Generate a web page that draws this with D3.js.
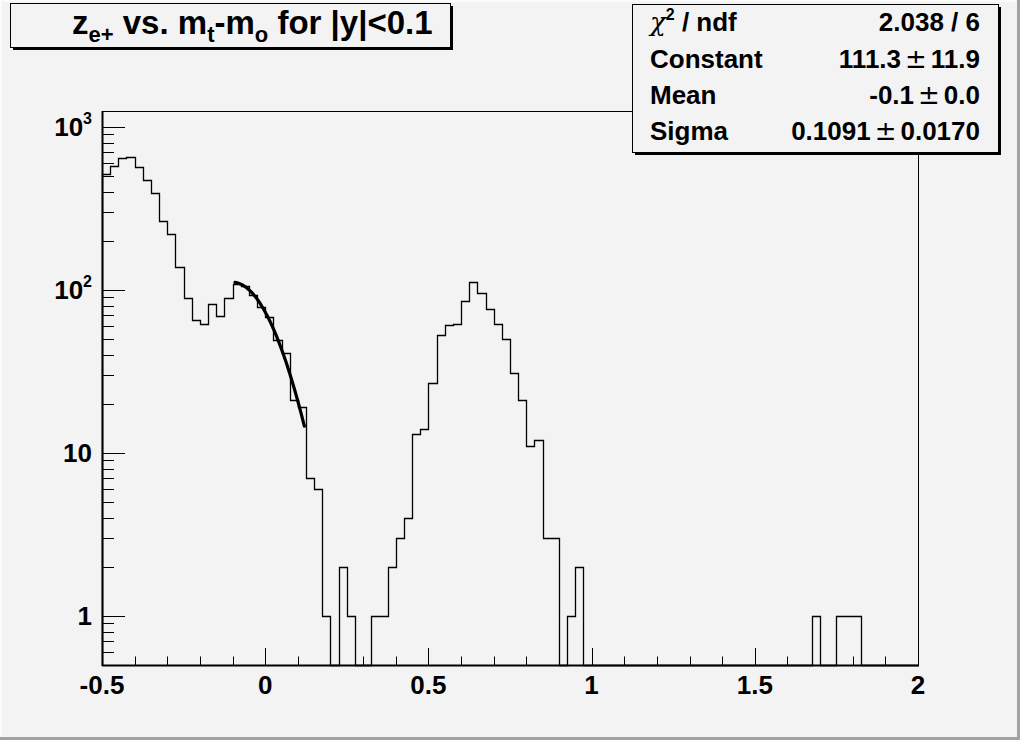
<!DOCTYPE html>
<html>
<head>
<meta charset="utf-8">
<script src="https://cdn.jsdelivr.net/npm/d3@7"></script>
<style>
  html, body { margin: 0; padding: 0; background: #f3f3f3; }
  svg { display: block; }
  text { font-family: "Liberation Sans", Arial, Helvetica, sans-serif; font-weight: bold; fill: #000; }
</style>
</head>
<body>
<svg id="chart" width="1020" height="740"></svg>
<script>
// ---------------- data ----------------
const xMin = -0.5;
const xMax = 2.0;
const binWidth = 0.025;
// counts per bin (100 bins from -0.5 to 2.0)
const counts = [
  512, 573, 645, 653, 563, 475, 394, 265, 219, 138,
   89,  65,  62,  82,  69,  89, 109, 106,  93,  79,
   68,  49,  41,  21,  19,   7,   6,   1,   0,   2,
    1,   0,   0,   1,   1,   2,   3,   4,  13,  14,
   27,  53,  61,  62,  85, 111,  95,  76,  62,  50,
   31,  21,  11,  12,   3,   3,   0,   1,   2,   0,
    0,   0,   0,   0,   0,   0,   0,   0,   0,   0,
    0,   0,   0,   0,   0,   0,   0,   0,   0,   0,
    0,   0,   0,   0,   0,   0,   0,   1,   0,   0,
    1,   1,   1,   0,   0,   0,   0,   0,   0,   0
];
const yMin = 0.5;
const yMax = 1250;
const xMajorTicks = [-0.5, 0, 0.5, 1, 1.5, 2];
const xTickLabels = ["-0.5", "0", "0.5", "1", "1.5", "2"];
const yMajorTicks = [1, 10, 100, 1000];
const yTickBase = ["1", "10", "10", "10"];
const yTickExp  = ["", "", "2", "3"];
// Gaussian fit result
const fitConstant = 111.3;
const fitMean = -0.1;
const fitSigma = 0.1091;
const fitRange = [-0.0925, 0.12];
// stats box
const statLabels = ["χ", "Constant", "Mean", "Sigma"];
const statValues = [["2.038 / 6"], ["111.3", "11.9"], ["-0.1", "0.0"], ["0.1091", "0.0170"]];

// ---------------- layout ----------------
const svg = d3.select("#chart");
const W = 1020, H = 740;
const frame = { left: 102, right: 918, top: 111, bottom: 665 };

svg.append("rect").attr("x", 0).attr("y", 0).attr("width", W).attr("height", H).attr("fill", "#f3f3f3");
// canvas bevel
svg.append("rect").attr("x", 0).attr("y", 0).attr("width", W).attr("height", 2).attr("fill", "#fbfbfb");
svg.append("rect").attr("x", 0).attr("y", 0).attr("width", 2).attr("height", H).attr("fill", "#fbfbfb");
svg.append("rect").attr("x", W - 3).attr("y", 0).attr("width", 3).attr("height", H).attr("fill", "#a2a2a2");
svg.append("rect").attr("x", 0).attr("y", H - 3).attr("width", W).attr("height", 3).attr("fill", "#a2a2a2");

const x = d3.scaleLinear().domain([xMin, xMax]).range([frame.left, frame.right]);
const y = d3.scaleLog().domain([yMin, yMax]).range([frame.bottom, frame.top]);

// frame
svg.append("rect")
  .attr("x", frame.left + 0.5).attr("y", frame.top + 0.5)
  .attr("width", frame.right - frame.left).attr("height", frame.bottom - frame.top)
  .attr("fill", "none").attr("stroke", "#000").attr("stroke-width", 1);

// ---------------- histogram ----------------
const px = v => Math.round(v) + 0.5;
const yc = v => px(y(Math.max(v, yMin)));
let pts = [];
pts.push([px(x(xMin)), px(y(yMin))]);
counts.forEach((c, i) => {
  const lo = xMin + i * binWidth, hi = lo + binWidth;
  pts.push([px(x(lo)), yc(c)]);
  pts.push([px(x(hi)), yc(c)]);
});
pts.push([px(x(xMax)), px(y(yMin))]);
svg.append("path")
  .attr("d", d3.line()(pts))
  .attr("fill", "none").attr("stroke", "#000").attr("stroke-width", 1.3);

// ---------------- fit curve ----------------
const nFit = 60;
const fitPts = d3.range(nFit + 1).map(k => {
  const xv = fitRange[0] + (fitRange[1] - fitRange[0]) * k / nFit;
  const yv = fitConstant * Math.exp(-0.5 * Math.pow((xv - fitMean) / fitSigma, 2));
  return [x(xv), y(yv)];
});
svg.append("path")
  .attr("d", d3.line().curve(d3.curveLinear)(fitPts))
  .attr("fill", "none").attr("stroke", "#000").attr("stroke-width", 3.2)
  .attr("stroke-linecap", "round");

// ---------------- axes ----------------
const ax = svg.append("g");
ax.append("line").attr("x1", frame.left).attr("x2", frame.right + 1)
  .attr("y1", frame.bottom + 0.5).attr("y2", frame.bottom + 0.5)
  .attr("stroke", "#000").attr("stroke-width", 2);
ax.append("line").attr("x1", frame.left + 0.5).attr("x2", frame.left + 0.5)
  .attr("y1", frame.top).attr("y2", frame.bottom + 1)
  .attr("stroke", "#000").attr("stroke-width", 2);

// x ticks
const xMinor = x.ticks(25);
xMinor.forEach(t => {
  const major = xMajorTicks.some(m => Math.abs(m - t) < 1e-9);
  ax.append("line")
    .attr("x1", px(x(t))).attr("x2", px(x(t)))
    .attr("y1", frame.bottom).attr("y2", frame.bottom - (major ? 17 : 8.5))
    .attr("stroke", "#000").attr("stroke-width", 1);
});
ax.selectAll(".xl").data(xMajorTicks).enter().append("text")
  .attr("x", d => x(d)).attr("y", 694)
  .attr("text-anchor", "middle").attr("font-size", 26)
  .text((d, i) => xTickLabels[i]);

// y ticks
const yAll = y.ticks();
yAll.forEach(t => {
  if (t < yMin || t > yMax) return;
  const major = yMajorTicks.some(m => Math.abs(m - t) < 1e-9);
  ax.append("line")
    .attr("x1", frame.left).attr("x2", frame.left + (major ? 23 : 12))
    .attr("y1", px(y(t))).attr("y2", px(y(t)))
    .attr("stroke", "#000").attr("stroke-width", 1);
});
yMajorTicks.forEach((t, i) => {
  const tx = ax.append("text")
    .attr("x", 92).attr("y", y(t) + 9.5)
    .attr("text-anchor", "end").attr("font-size", 26);
  tx.append("tspan").text(yTickBase[i]);
  if (yTickExp[i]) {
    tx.append("tspan").attr("font-size", 16).attr("dy", -12).text(yTickExp[i]);
  }
});

// ---------------- title box ----------------
const tb = { x: 10, y: 3, w: 440, h: 44 };
svg.append("rect").attr("x", tb.x + 3).attr("y", tb.y + 3).attr("width", tb.w).attr("height", tb.h).attr("fill", "#000");
svg.append("rect").attr("x", tb.x + 0.5).attr("y", tb.y + 0.5).attr("width", tb.w).attr("height", tb.h)
  .attr("fill", "#f3f3f3").attr("stroke", "#000").attr("stroke-width", 1);
const title = svg.append("text").attr("x", 72).attr("y", 34).attr("font-size", 33);
title.append("tspan").text("z");
title.append("tspan").attr("font-size", 22).attr("dy", 8).text("e+");
title.append("tspan").attr("dy", -8).text(" vs. m");
title.append("tspan").attr("font-size", 22).attr("dy", 8).text("t");
title.append("tspan").attr("dy", -8).text("-m");
title.append("tspan").attr("font-size", 22).attr("dy", 8).text("o");
title.append("tspan").attr("dy", -8).text(" for |y|<0.1");

// ---------------- stats box ----------------
const sb = { x: 632, y: 4, w: 366, h: 148 };
svg.append("rect").attr("x", sb.x + 3).attr("y", sb.y + 3).attr("width", sb.w).attr("height", sb.h).attr("fill", "#000");
svg.append("rect").attr("x", sb.x + 0.5).attr("y", sb.y + 0.5).attr("width", sb.w).attr("height", sb.h)
  .attr("fill", "#f3f3f3").attr("stroke", "#000").attr("stroke-width", 1);
const rowBase = [31, 68, 104, 140];
statLabels.forEach((lab, i) => {
  const t = svg.append("text").attr("x", 650).attr("y", rowBase[i]).attr("font-size", 26);
  if (i === 0) {
    t.append("tspan").attr("font-weight", "normal").attr("font-family", "DejaVu Serif, serif").attr("font-style", "italic").text(lab);
    t.append("tspan").attr("font-size", 16).attr("dy", -11).text("2");
    t.append("tspan").attr("dy", 11).text(" / ndf");
  } else {
    t.text(lab);
  }
  const v = statValues[i];
  const tv = svg.append("text").attr("x", 980).attr("y", rowBase[i]).attr("font-size", 26).attr("text-anchor", "end");
  tv.append("tspan").text(v[0]);
  if (v.length > 1) {
    tv.append("tspan").attr("font-weight", "normal").attr("font-family", "DejaVu Sans, sans-serif").attr("font-size", 26).attr("dx", 4).text("±");
    tv.append("tspan").attr("dx", 4).text(v[1]);
  }
});
</script>
</body>
</html>
